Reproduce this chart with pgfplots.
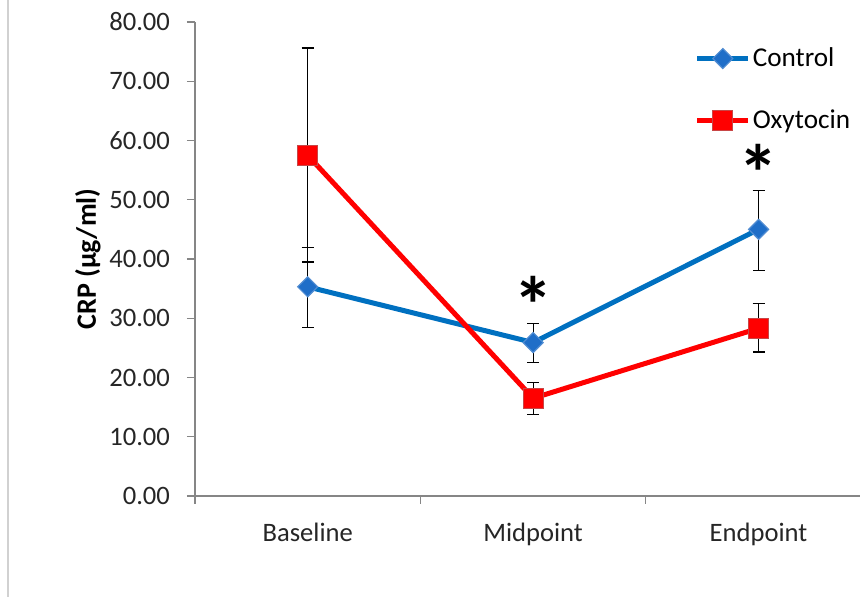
\documentclass[border=0pt]{standalone}
\usepackage{fontspec}
\setmainfont{Carlito}
\usepackage{pgfplots}
\pgfplotsset{compat=1.18}
\definecolor{ctrl}{RGB}{0,112,192}
\definecolor{ctrlmark}{RGB}{31,110,200}
\definecolor{ctrledge}{RGB}{80,140,210}
\definecolor{oxy}{RGB}{255,0,0}
\definecolor{oxyedge}{RGB}{200,70,70}
\definecolor{axisgray}{RGB}{134,134,134}
\begin{document}
\begin{tikzpicture}[font=\fontsize{13}{15}\selectfont]
\path[use as bounding box] (0,0) rectangle (430.5pt,298.5pt);
\draw[black!18,line width=0.6pt] (4pt,0) -- (4pt,298.5pt);
\begin{axis}[
  at={(97.5pt,50.5pt)}, anchor=south west,
  scale only axis, width=332.5pt, height=237pt,
  xmin=-0.5, xmax=2.45, ymin=0, ymax=80,
  axis lines=left, axis line style={-, draw=axisgray, line width=0.6pt},
  tick style={draw=axisgray, line width=0.6pt},
  tick align=outside, major tick length=4pt,
  xtick={-0.5,0.5,1.5}, xticklabels={},
  extra x ticks={0,1,2},
  extra x tick labels={Baseline,Midpoint,Endpoint},
  extra x tick style={tick style={draw=none}},
  xticklabel style={font=\fontsize{13.3}{15}\selectfont, text=black!85, yshift=-6pt},
  ytick={0,10,...,80},
  yticklabel style={font=\fontsize{13.3}{15}\selectfont, text=black!85, xshift=-5pt},
  /pgf/number format/.cd, fixed, fixed zerofill, precision=2, assume math mode=true, /pgfplots/.cd,
  ylabel={\bfseries CRP (µg/ml)},
  ylabel style={at={(axis description cs:-0.161,0.5)}, anchor=center, rotate=0, font=\fontsize{14}{16}\selectfont},
  legend style={draw=none, fill=none, at={(axis description cs:0.751,0.951)}, anchor=north west,
     inner sep=0pt, row sep=18pt, font=\fontsize{13.6}{15}\selectfont,
     nodes={inner sep=1pt}},
  legend cell align=left,
  legend image code/.code={\draw[mark repeat=2,mark phase=2,#1] plot coordinates {(0pt,0pt) (12.75pt,0pt) (25.5pt,0pt)};},
  clip=false,
]
\addplot+[ctrl, line width=2.5pt, mark=square*, mark size=3.54pt,
  mark options={rotate=45, fill=ctrlmark, draw=ctrledge, line width=0.6pt, solid},
  error bars/.cd, y dir=both, y explicit,
  error bar style={black, line width=0.6pt, solid},
  error mark options={rotate=90, mark size=3pt, black, line width=0.6pt}]
coordinates {
  (0,35.3) += (0,6.6) -= (0,6.8)
  (1,25.9) += (0,3.2) -= (0,3.4)
  (2,45.0) += (0,6.5) -= (0,7.0)
};
\addlegendentry{Control}
\addplot+[oxy, line width=2.5pt, mark=square*, mark size=5pt,
  mark options={fill=oxy, draw=oxyedge, line width=0.6pt, solid},
  error bars/.cd, y dir=both, y explicit,
  error bar style={black, line width=0.6pt, solid},
  error mark options={rotate=90, mark size=3pt, black, line width=0.6pt}]
coordinates {
  (0,57.5) += (0,18.1) -= (0,18.0)
  (1,16.5) += (0,2.7) -= (0,2.7)
  (2,28.3) += (0,4.2) -= (0,4.0)
};
\addlegendentry{Oxytocin}
\node[font=\fontsize{40}{40}\bfseries\selectfont, inner sep=0pt, yshift=-6pt] at (axis cs:1,34.3) {*};
\node[font=\fontsize{40}{40}\bfseries\selectfont, inner sep=0pt, yshift=-7pt] at (axis cs:2,56.9) {*};
\end{axis}
\end{tikzpicture}
\end{document}
